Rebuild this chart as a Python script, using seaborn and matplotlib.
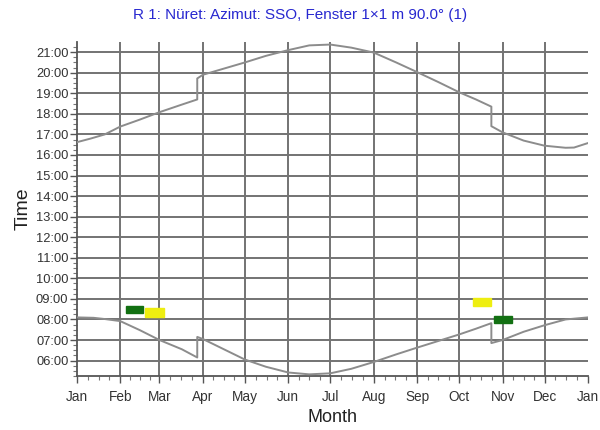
import numpy as np
import pandas as pd
import matplotlib
matplotlib.use("Agg")
import matplotlib.pyplot as plt
from matplotlib.ticker import FixedLocator, FuncFormatter
import seaborn as sns

# Step 1: Data (day of year, decimal hours)
month_names = ["Jan", "Feb", "Mar", "Apr", "May", "Jun", "Jul", "Aug",
               "Sep", "Oct", "Nov", "Dec", "Jan"]
month_start = [0, 31, 59, 90, 120, 151, 181, 212, 243, 273, 304, 334, 365]

sunset_day = [0, 10, 20, 31, 45, 59, 75, 86, 86, 90, 105, 120, 135, 151, 166,
              181, 196, 212, 228, 243, 258, 273, 285, 296, 296, 304, 319, 334,
              349, 355, 365]
sunset_hour = [16.62, 16.8, 17.0, 17.38, 17.72, 18.08, 18.45, 18.7, 19.72,
               19.9, 20.2, 20.5, 20.82, 21.1, 21.33, 21.37, 21.22, 20.98,
               20.5, 20.03, 19.55, 19.05, 18.7, 18.35, 17.4, 17.1, 16.7,
               16.45, 16.35, 16.36, 16.58]

sunrise_day = [0, 12, 20, 31, 45, 59, 75, 86, 86, 90, 105, 120, 135, 151,
               166, 181, 196, 212, 228, 243, 258, 273, 285, 296, 296, 304,
               319, 334, 349, 365]
sunrise_hour = [8.1, 8.08, 8.02, 7.92, 7.48, 7.0, 6.55, 6.15, 7.15, 7.05,
                6.55, 6.05, 5.7, 5.42, 5.33, 5.38, 5.6, 5.93, 6.3, 6.63,
                6.95, 7.27, 7.55, 7.82, 6.85, 7.0, 7.4, 7.72, 8.0, 8.1]

# sun patches on the window (start day, end day, centre hour, height)
patch_start = [35, 48.6, 282.6, 298]
patch_end = [47.4, 62, 295.7, 311]
patch_mid = [8.48, 8.34, 8.85, 8.0]
patch_height = [0.37, 0.4, 0.38, 0.37]
patch_color = ["#127012", "#eeee10", "#eeee10", "#127012"]

# Step 2: Style
sns.set_theme(style="white")
plt.rcParams["font.family"] = ["Liberation Sans", "DejaVu Sans"]

fig = plt.figure(figsize=(6, 4.3), dpi=100)
ax = fig.add_axes([0.128, 0.1256, 0.852, 0.777])

grid_col = "#737373"
# grid drawn by hand so the last "Jan" gets no line on the right edge
for d in month_start[1:-1]:
    ax.axvline(d, color=grid_col, lw=1.4, zorder=1)
for h in range(6, 22):
    ax.axhline(h, color=grid_col, lw=1.4, zorder=1)

# Step 3: Curves
sun = pd.DataFrame({"day": sunset_day, "hour": sunset_hour})
rise = pd.DataFrame({"day": sunrise_day, "hour": sunrise_hour})
sns.lineplot(data=sun, x="day", y="hour", estimator=None, sort=False,
             color="#8c8c8c", lw=1.4, ax=ax, zorder=3)
sns.lineplot(data=rise, x="day", y="hour", estimator=None, sort=False,
             color="#8c8c8c", lw=1.4, ax=ax, zorder=3)

# Step 4: Patches
for s, e, m, h, c in zip(patch_start, patch_end, patch_mid, patch_height, patch_color):
    ax.barh(m, e - s, left=s, height=h, color=c, edgecolor=c, zorder=4)

# Step 5: Axes
ax.set_xlim(0, 365)
ax.set_ylim(5.25, 21.5)
ax.set_xticks(month_start)
ax.set_xticklabels(month_names)
minor_x = []
for a, b in zip(month_start[:-1], month_start[1:]):
    minor_x += [a + (b - a) * k / 4 for k in (1, 2, 3)]
ax.xaxis.set_minor_locator(FixedLocator(minor_x))

ax.set_yticks(range(6, 22))
ax.yaxis.set_major_formatter(FuncFormatter(lambda v, p: "%02d:00" % int(round(v))))
ax.yaxis.set_minor_locator(FixedLocator(np.arange(5.25, 21.5, 0.25)))

for s in ["top", "right"]:
    ax.spines[s].set_visible(False)
for s in ["left", "bottom"]:
    ax.spines[s].set_color("#555555")
    ax.spines[s].set_linewidth(1.3)

ax.tick_params(which="major", length=5, width=1, color="#555555",
               labelcolor="#333333")
ax.tick_params(axis="x", labelsize=9.8, pad=5)
ax.tick_params(axis="y", labelsize=9.3, pad=1)
ax.tick_params(which="minor", length=3, width=0.8, color="#777777")
ax.tick_params(axis="x", which="both", bottom=True)
ax.tick_params(axis="y", which="both", left=True)

ax.set_xlabel("Month", fontsize=13, color="#222222", labelpad=4)
ax.set_ylabel("Time", fontsize=14, color="#222222", labelpad=3)
fig.text(0.5, 0.965, "R 1: Nüret: Azimut: SSO, Fenster 1×1 m 90.0° (1)",
         ha="center", va="center", fontsize=11, color="#2828d0")

plt.savefig("out.png", dpi=100)
